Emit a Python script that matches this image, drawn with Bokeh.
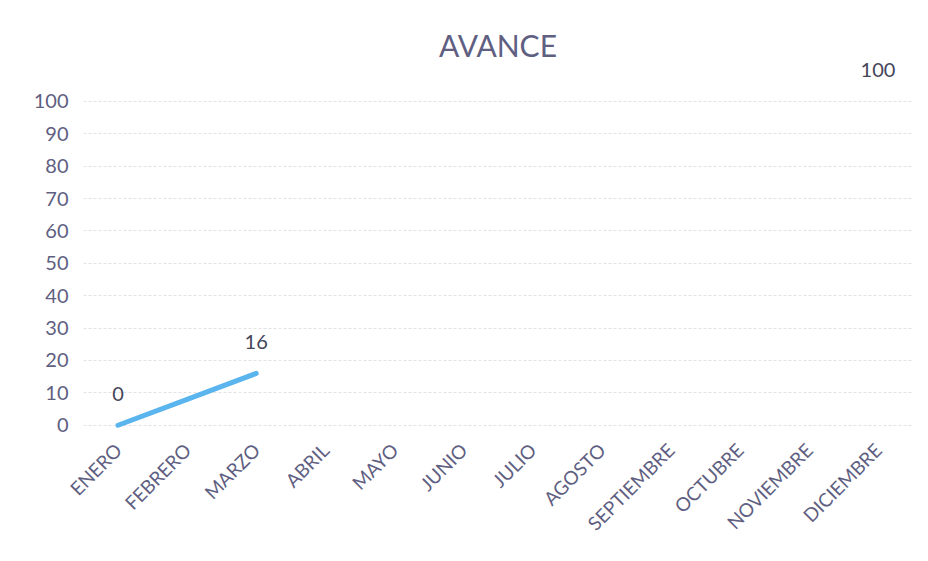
import math
from bokeh.plotting import figure
from bokeh.models import FactorRange, Range1d, FixedTicker, ColumnDataSource, Title
from bokeh.core.properties import value
from bokeh.embed import file_html
from bokeh.resources import INLINE

nan = float("nan")
meses = ["ENERO", "FEBRERO", "MARZO", "ABRIL", "MAYO", "JUNIO", "JULIO",
         "AGOSTO", "SEPTIEMBRE", "OCTUBRE", "NOVIEMBRE", "DICIEMBRE"]
avance = [0, 8, 16, nan, nan, nan, nan, nan, nan, nan, nan, 100]
etiquetas_meses = ["ENERO", "MARZO", "DICIEMBRE"]
etiquetas_valores = [0, 16, 100]
y_ticks = [0, 10, 20, 30, 40, 50, 60, 70, 80, 90, 100]

FONT = "Lato"
TXT = "#5f5f82"

p = figure(width=912, height=545, x_range=FactorRange(*meses, range_padding=0),
           y_range=Range1d(-1, 112), output_backend="svg", toolbar_location=None,
           min_border_left=83, min_border_right=0, min_border_top=62, min_border_bottom=117)
p.outline_line_color = None
p.background_fill_color = "white"
p.border_fill_color = "white"

p.title = Title(text="AVANCE", align="center", text_font=FONT, text_font_size="30px",
                text_color=TXT, text_font_style="normal", offset=0, standoff=0)

line_src = ColumnDataSource(dict(x=meses, y=avance))
p.line("x", "y", source=line_src, line_color="#5ab4ee", line_width=5, line_cap="round")

lab_src = ColumnDataSource(dict(x=etiquetas_meses, y=etiquetas_valores,
                                t=[str(v) for v in etiquetas_valores]))
p.text("x", "y", text="t", source=lab_src, text_align="center", text_baseline="middle",
       y_offset=-31, text_font=value(FONT), text_font_size="20px", text_color="#45455a")

p.yaxis.ticker = FixedTicker(ticks=y_ticks)
p.xgrid.grid_line_color = None
p.ygrid.grid_line_color = "#e2e2e2"
p.ygrid.grid_line_dash = "3 2"
p.ygrid.grid_line_width = 1

for ax in (p.xaxis, p.yaxis):
    ax.axis_line_color = None
    ax.major_tick_line_color = None
    ax.minor_tick_line_color = None
    ax.major_tick_out = 0
    ax.major_tick_in = 0
    ax.minor_tick_out = 0
    ax.minor_tick_in = 0
    ax.major_label_text_font = FONT
    ax.major_label_text_color = TXT

p.yaxis.major_label_text_font_size = "20px"
p.xaxis.major_label_text_font_size = "19px"
p.yaxis.major_label_standoff = 15
p.xaxis.major_label_orientation = math.pi / 4
p.xaxis.major_label_standoff = 18

open("out.html", "w").write(file_html(p, INLINE))
